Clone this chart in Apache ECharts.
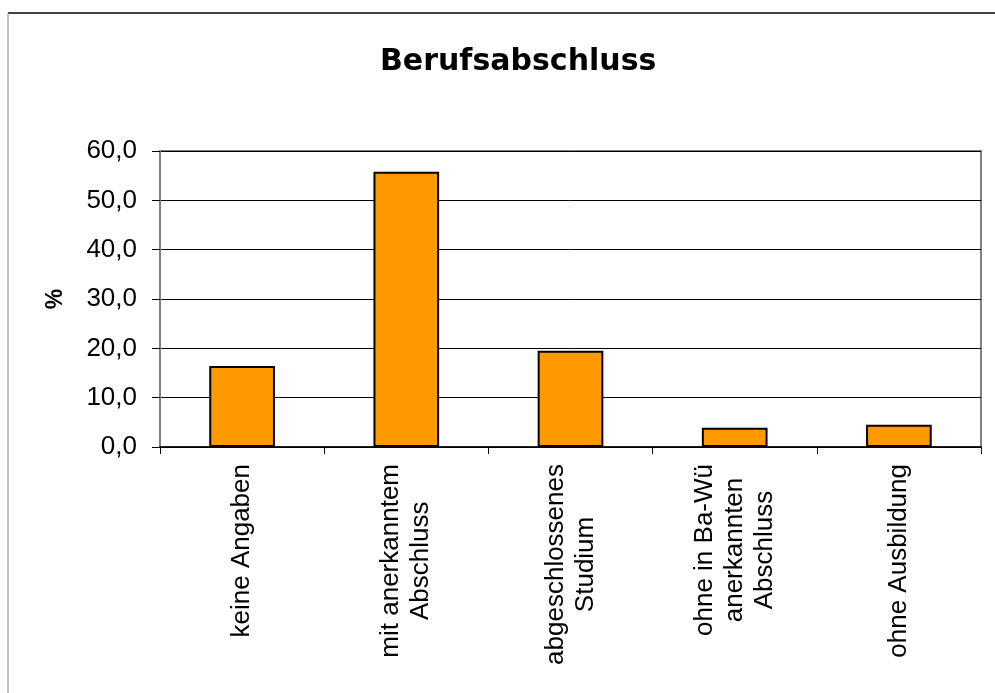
<!DOCTYPE html>
<html>
<head>
<meta charset="utf-8">
<script src="https://cdn.jsdelivr.net/npm/echarts@6/dist/echarts.min.js"></script>
<style>
html,body{margin:0;padding:0;background:#fff;}
#chart{width:995px;height:693px;}
</style>
</head>
<body>
<div id="chart"></div>
<script>
const titleText = 'Berufsabschluss';
const categories = [
  ['keine Angaben'],
  ['mit anerkanntem', 'Abschluss'],
  ['abgeschlossenes', 'Studium'],
  ['ohne in Ba-Wü', 'anerkannten', 'Abschluss'],
  ['ohne Ausbildung']
];
const values = [16.4, 55.8, 19.5, 3.9, 4.5];
const yAxisName = '%';
const yMin = 0, yMax = 60, yStep = 10;

const chart = echarts.init(document.getElementById('chart'), null, {renderer: 'canvas'});
const baseFont = "'Liberation Sans', Arial, sans-serif";

chart.setOption({
  backgroundColor: '#ffffff',
  animation: false,
  title: {
    text: titleText,
    left: 380,
    top: 47,
    padding: 0,
    textStyle: {fontFamily: "'DejaVu Sans', sans-serif", fontWeight: 'bold', fontSize: 30, color: '#000'}
  },
  graphic: [
    {type: 'line', shape: {x1: 8, y1: 13, x2: 995, y2: 13}, style: {stroke: '#000', lineWidth: 1.5}, silent: true},
    {type: 'line', shape: {x1: 8, y1: 13, x2: 8, y2: 693}, style: {stroke: '#888', lineWidth: 1}, silent: true}
  ],
  grid: {
    left: 160, top: 151, right: 14, bottom: 246,
    show: true, borderColor: '#808080', borderWidth: 2, backgroundColor: 'transparent'
  },
  xAxis: {
    type: 'category',
    data: categories.map(c => c.join('\n')),
    axisLine: {show: true, lineStyle: {color: '#000', width: 1.5}},
    axisTick: {show: true, length: 7, lineStyle: {color: '#000', width: 1}},
    axisLabel: {
      interval: 0,
      rotate: 90,
      margin: 17,
      formatter: v => v.split('\n').map(l => '{c|' + l + '}').join('\n'),
      rich: {
        c: {align: 'center', fontFamily: baseFont, fontSize: 26, lineHeight: 30, color: '#000'}
      }
    }
  },
  yAxis: {
    type: 'value',
    min: yMin, max: yMax, interval: yStep,
    name: yAxisName,
    nameLocation: 'middle',
    nameGap: 93,
    nameTextStyle: {fontFamily: baseFont, fontWeight: 'bold', fontSize: 23, color: '#000'},
    axisLine: {show: true, lineStyle: {color: '#808080', width: 2}},
    axisTick: {show: true, length: 8, lineStyle: {color: '#000', width: 1}},
    axisLabel: {
      margin: 23,
      fontFamily: baseFont, fontSize: 26, color: '#000',
      formatter: v => v.toFixed(1).replace('.', ',')
    },
    splitLine: {show: true, lineStyle: {color: '#000', width: 1}}
  },
  series: [{
    type: 'bar',
    data: values,
    barWidth: '40%',
    itemStyle: {color: '#FF9900', borderColor: '#000', borderWidth: 2}
  }]
});
</script>
</body>
</html>
